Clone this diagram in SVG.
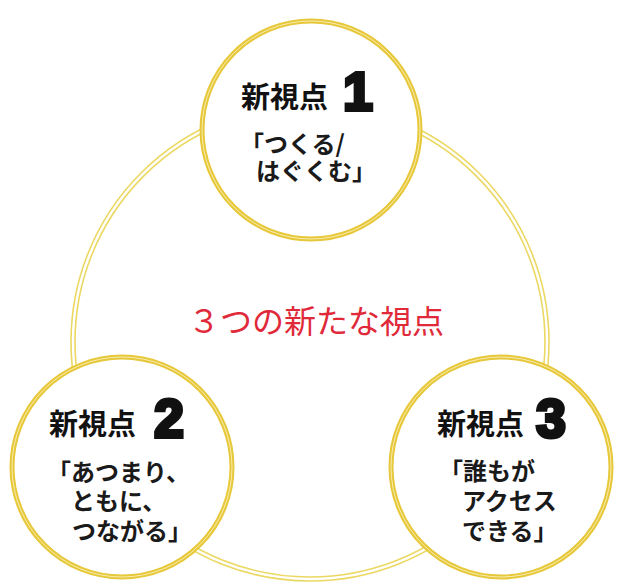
<svg xmlns="http://www.w3.org/2000/svg" width="620" height="586" viewBox="0 0 620 586">
  <style>
    .ring { fill: none; stroke: #EBD862; stroke-width: 1.6; }
    .node-outer { fill: #FFFFFF; stroke: #E7C83A; stroke-width: 5; }
    .node-inner { fill: none; stroke: #F7ECB0; stroke-width: 1; }
    .head { font-family: "Noto Sans CJK JP", "Noto Sans", sans-serif; font-weight: 700; font-size: 29px; fill: #111111; }
    .num { font-family: "Liberation Sans", Arial, sans-serif; font-weight: 700; font-size: 53px; fill: #111111; stroke: #111111; stroke-width: 4; stroke-linejoin: miter; text-anchor: middle; }
    .body { font-family: "Noto Sans CJK JP", "Noto Sans", sans-serif; font-weight: 700; font-size: 24px; fill: #1A1A1A; }
    .center { font-family: "Noto Sans CJK JP", "Noto Sans", sans-serif; font-weight: 400; font-size: 32px; fill: #E02A3A; text-anchor: middle; }
  </style>
  <rect width="620" height="586" fill="#FFFFFF"/>

  <g id="connectors">
    <circle class="ring" cx="310" cy="342" r="239"/>
    <circle class="ring" cx="310" cy="342" r="235"/>
  </g>

  <g id="center-label">
    <text class="center" x="316" y="333">３つの新たな視点</text>
  </g>

  <g id="node-1">
    <circle class="node-outer" cx="311" cy="130" r="109"/>
    <circle class="node-inner" cx="311" cy="130" r="109"/>
    <text class="head" x="241" y="108">新視点</text>
    <text class="num" x="358" y="110">1</text>
    <text class="body" x="240" y="153">「つくる/</text>
    <text class="body" x="256" y="180">はぐくむ」</text>
  </g>

  <g id="node-2">
    <circle class="node-outer" cx="122" cy="467" r="110"/>
    <circle class="node-inner" cx="122" cy="467" r="110"/>
    <text class="head" x="49" y="435">新視点</text>
    <text class="num" x="169" y="437">2</text>
    <text class="body" x="47" y="481">「あつまり、</text>
    <text class="body" x="71" y="510">ともに、</text>
    <text class="body" x="72" y="540">つながる」</text>
  </g>

  <g id="node-3">
    <circle class="node-outer" cx="501" cy="467" r="110"/>
    <circle class="node-inner" cx="501" cy="467" r="110"/>
    <text class="head" x="437" y="435">新視点</text>
    <text class="num" x="551" y="437">3</text>
    <text class="body" x="439" y="480">「誰もが</text>
    <text class="body" x="462" y="510">アクセス</text>
    <text class="body" x="462" y="540">できる」</text>
  </g>
</svg>
